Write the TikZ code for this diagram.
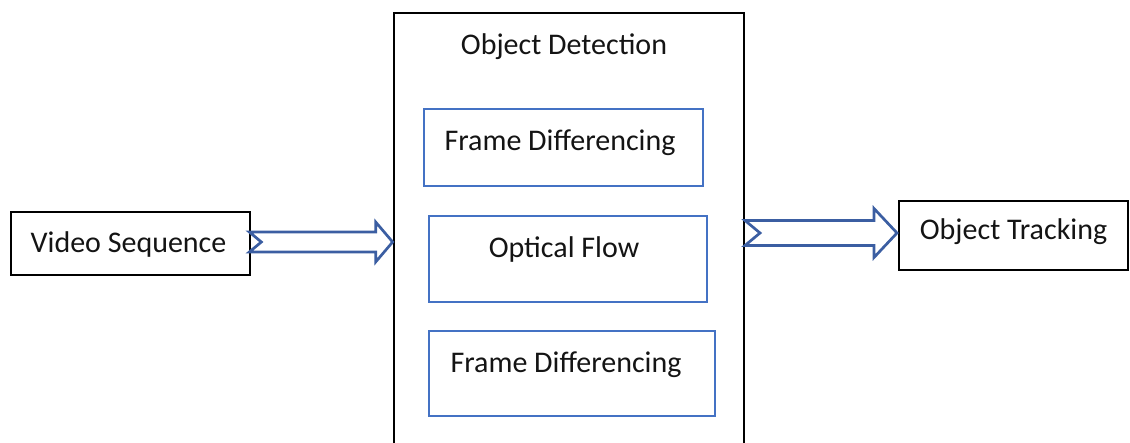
\documentclass[tikz,border=0pt]{standalone}
\usepackage{fontspec}
\setmainfont{Carlito}
\usetikzlibrary{calc}
\definecolor{boxblue}{RGB}{68,114,196}
\definecolor{arrowblue}{RGB}{59,94,162}
\newcommand\blockarrow[6]{%
  \draw[arrowstyle] ($(#1)+(0,#3)$) -- ($(#2)+(-#5,#3)$) -- ($(#2)+(-#5,#4)$) -- (#2)
    -- ($(#2)+(-#5,-#4)$) -- ($(#2)+(-#5,-#3)$) -- ($(#1)+(0,-#3)$) -- ($(#1)+(#6,0)$) -- cycle;}
\begin{document}
\begin{tikzpicture}[x=1pt,y=-1pt,
  blackbox/.style={draw=black,line width=2.7pt,inner sep=0pt,fill=none},
  bluebox/.style={draw=boxblue,line width=2.7pt,inner sep=0pt},
  lbl/.style={inner sep=0pt,anchor=base,font=\fontsize{30}{36}\selectfont,text=black!92},
  arrowstyle/.style={draw=arrowblue,line width=2.7pt,line join=miter,fill=none}]
\useasboundingbox (0,0) rectangle (1130,443);
\clip (0,0) rectangle (1130,443);
% outer detection box (bottom edge lies below the picture)
\node[blackbox,minimum width=350pt,minimum height=457pt] (det) at (569,241.5) {};
\node[lbl] (dett) at (564,55) {Object Detection};
% inner boxes
\node[bluebox,minimum width=279pt,minimum height=77pt] (fd1) at (563.5,147.5) {};
\node[lbl] (fd1t) at (560,150.7) {Frame Differencing};
\node[bluebox,minimum width=278pt,minimum height=86pt] (of) at (568,259) {};
\node[lbl] (oft) at (564,257.7) {Optical Flow};
\node[bluebox,minimum width=286pt,minimum height=85pt] (fd2) at (572,373.5) {};
\node[lbl] (fd2t) at (566,372.7) {Frame Differencing};
% side boxes
\node[blackbox,minimum width=239pt,minimum height=63pt] (vs) at (130.5,243.5) {};
\node[lbl] (vst) at (128.5,253) {Video Sequence};
\node[blackbox,minimum width=229pt,minimum height=69pt] (ot) at (1013.5,235.5) {};
\node[lbl] (ott) at (1013.5,240) {Object Tracking};
% block arrows
\coordinate (a1s) at ($(vs.east)+(-2,-1.5)$);
\coordinate (a1e) at (det.west |- a1s);
\coordinate (a2s) at (745,233);
\coordinate (a2e) at (897,233);
\blockarrow{a1s}{a1e}{10}{20}{17}{12}
\blockarrow{a2s}{a2e}{12.5}{24.5}{23}{15}
\end{tikzpicture}
\end{document}
